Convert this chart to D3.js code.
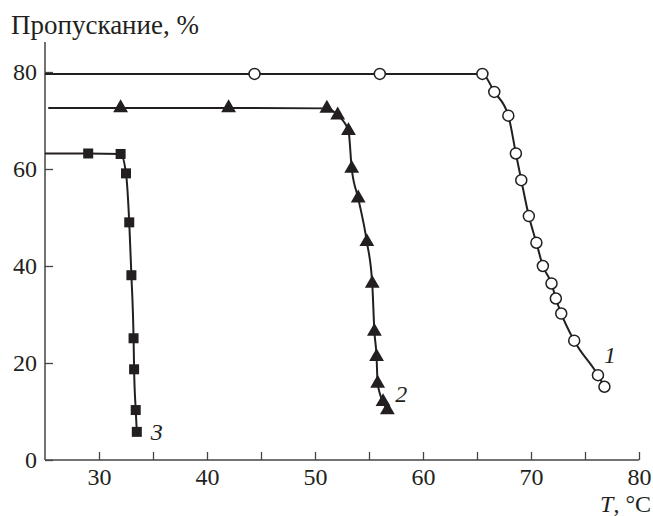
<!DOCTYPE html>
<html><head><meta charset="utf-8">
<script src="https://cdn.jsdelivr.net/npm/d3@7"></script>
<style>body{margin:0;background:#fff}</style>
</head><body>
<svg id="c" width="653" height="516"></svg>
<script>
const xTicks = [30, 35, 40, 45, 50, 55, 60, 65, 70, 75, 80];
const xTickLabels = [30, 40, 50, 60, 70, 80];
const yTicks = [0, 20, 40, 60, 80];

const s1T = [44.4, 56.0, 65.5, 66.6, 67.9, 68.6, 69.1, 69.8, 70.5, 71.1, 71.9, 72.3, 72.8, 74.0, 76.2, 76.8];
const s1V = [79.6, 79.6, 79.6, 75.9, 71.0, 63.2, 57.7, 50.3, 44.8, 40.0, 36.4, 33.3, 30.2, 24.6, 17.5, 15.1];
const s2T = [32.0, 42.0, 51.1, 52.1, 53.1, 53.4, 54.0, 54.8, 55.3, 55.5, 55.7, 55.8, 56.3, 56.7];
const s2V = [72.6, 72.6, 72.5, 71.1, 67.9, 60.1, 54.0, 45.0, 36.4, 26.5, 21.3, 15.8, 12.0, 10.3];
const s3T = [29.0, 32.0, 32.5, 32.8, 33.0, 33.2, 33.25, 33.4, 33.5];
const s3V = [63.2, 63.1, 59.1, 49.0, 38.1, 25.1, 18.7, 10.3, 5.8];
const seriesLabels = ["1", "2", "3"];

const svg = d3.select("#c");
const x = d3.scaleLinear().domain([25, 80]).range([45, 639]);
const y = d3.scaleLinear().domain([0, 80]).range([460, 72]);
const ink = "#231f20";
const FF = '"Liberation Serif"';
const FS = "24px";

const xAxis = svg.append("g").attr("transform", "translate(0,460)")
  .call(d3.axisBottom(x).tickValues(xTicks).tickSize(-8).tickFormat(d => xTickLabels.includes(d) ? d : "").tickPadding(8));
const yAxis = svg.append("g").attr("transform", "translate(45,0)")
  .call(d3.axisLeft(y).tickValues(yTicks).tickSize(-8).tickPadding(8));
[xAxis, yAxis].forEach(g => {
  g.attr("font-family", null).attr("font-size", null);
  g.select(".domain").remove();
  g.selectAll("line").attr("stroke", "#444").attr("stroke-width", 1.3);
  g.selectAll("text").attr("fill", ink).style("font-family", FF).style("font-size", FS);
});
xAxis.selectAll("text").attr("dy", "0.71em");
svg.append("line").attr("x1", 45).attr("x2", x(80)).attr("y1", 460).attr("y2", 460).attr("stroke", "#444").attr("stroke-width", 1.5);
svg.append("line").attr("x1", 45).attr("x2", 45).attr("y1", 460).attr("y2", 42).attr("stroke", "#444").attr("stroke-width", 1.5);

svg.append("text").attr("x", 11).attr("y", 34).attr("fill", ink).style("font-family", FF).style("font-size", "27px")
  .text("Пропускание, %");
const tl = svg.append("text").attr("x", 651).attr("y", 512).attr("text-anchor", "end").attr("fill", ink)
  .style("font-family", FF).style("font-size", FS);
tl.append("tspan").style("font-style", "italic").text("T");
tl.append("tspan").text(", °C");

const line = d3.line().x(d => x(d[0])).y(d => y(d[1])).curve(d3.curveMonotoneX);
function series(T, V, startT) {
  const pts = T.map((t, i) => [t, V[i]]);
  return { pts, path: [[startT, V[0]]].concat(pts) };
}
const s1 = series(s1T, s1V, 25), s2 = series(s2T, s2V, 25.3), s3 = series(s3T, s3V, 25);
[s1, s2, s3].forEach(s => {
  svg.append("path").attr("d", line(s.path)).attr("fill", "none").attr("stroke", ink).attr("stroke-width", 2);
});
svg.append("g").selectAll("circle").data(s1.pts).join("circle")
  .attr("cx", d => x(d[0])).attr("cy", d => y(d[1])).attr("r", 5.5)
  .attr("fill", "#fff").attr("stroke", ink).attr("stroke-width", 1.5);
svg.append("g").selectAll("path").data(s2.pts).join("path")
  .attr("d", d3.symbol(d3.symbolTriangle, 95)())
  .attr("transform", d => `translate(${x(d[0])},${y(d[1])})`).attr("fill", ink);
svg.append("g").selectAll("rect").data(s3.pts).join("rect")
  .attr("x", d => x(d[0]) - 5).attr("y", d => y(d[1]) - 5).attr("width", 10).attr("height", 10).attr("fill", ink);

const lab = [[s1.pts[14], 6, -12], [s2.pts[13], 8, -8], [s3.pts[8], 14, 8]];
lab.forEach((l, i) => {
  svg.append("text").attr("x", x(l[0][0]) + l[1]).attr("y", y(l[0][1]) + l[2]).attr("fill", ink)
    .style("font-family", FF).style("font-size", FS).style("font-style", "italic").text(seriesLabels[i]);
});
</script>
</body></html>
